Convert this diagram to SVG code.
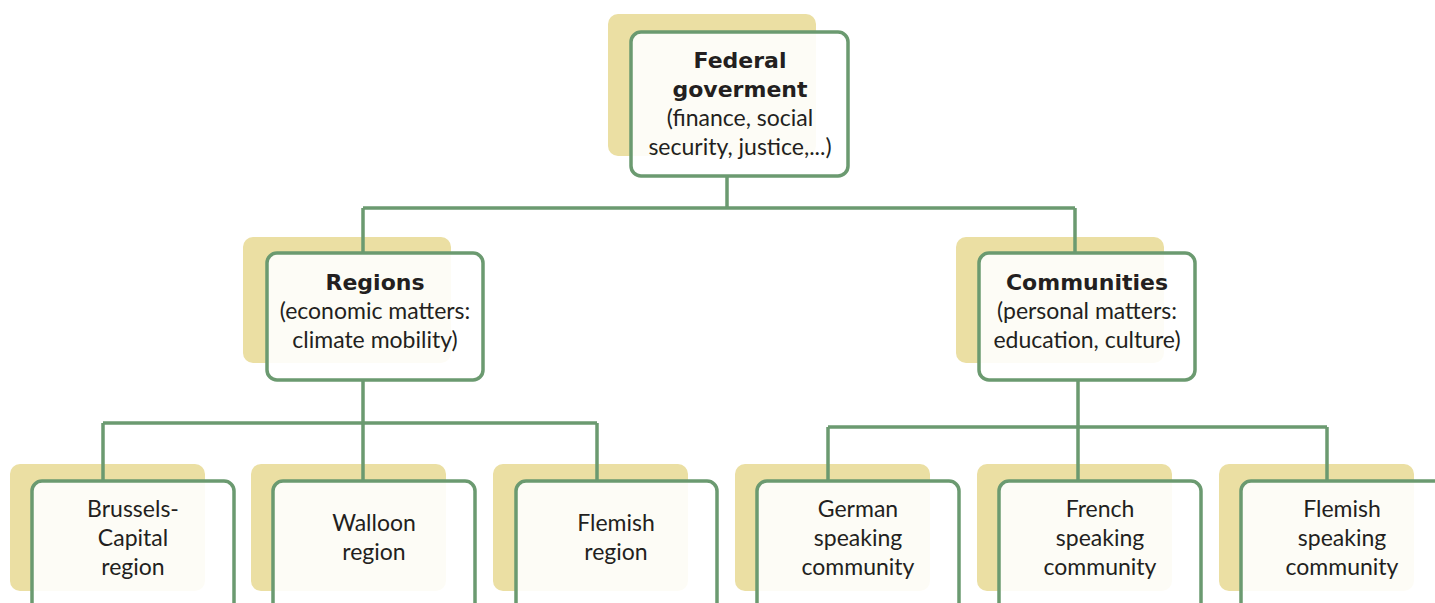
<svg xmlns="http://www.w3.org/2000/svg" width="1435" height="603" viewBox="0 0 1435 603">
  <style>
    .shadow { fill: #ebdfa3; }
    .box { fill: #ffffff; fill-opacity: 0.9; stroke: #6b9a70; stroke-width: 3.5; }
    .link { fill: none; stroke: #6b9a70; stroke-width: 3.5; }
    text { font-family: "Lato", "Open Sans", sans-serif; font-size: 23px; fill: #231f20; text-anchor: middle; }
    .title { font-family: "DejaVu Sans", "Lato", sans-serif; font-weight: bold; font-size: 22px; }
  </style>
  <rect width="1435" height="603" fill="#ffffff"/>

  <!-- shadow cards -->
  <g id="shadows">
    <rect class="shadow" x="608" y="14" width="208" height="142" rx="10"/>
    <rect class="shadow" x="243" y="237" width="208" height="126" rx="10"/>
    <rect class="shadow" x="956" y="237" width="208" height="126" rx="10"/>
    <rect class="shadow" x="10" y="464" width="195" height="127" rx="10"/>
    <rect class="shadow" x="251" y="464" width="195" height="127" rx="10"/>
    <rect class="shadow" x="493" y="464" width="195" height="127" rx="10"/>
    <rect class="shadow" x="735" y="464" width="195" height="127" rx="10"/>
    <rect class="shadow" x="977" y="464" width="195" height="127" rx="10"/>
    <rect class="shadow" x="1219" y="464" width="195" height="127" rx="10"/>
  </g>

  <!-- tree connectors -->
  <g id="connectors">
    <path class="link" d="M727 176 V208 M363 208 H1075 M363 208 V253 M1075 208 V253"/>
    <path class="link" d="M363 380 V423 M103 423 H597 M103 423 V481 M363 423 V481 M597 423 V481"/>
    <path class="link" d="M1078 380 V427 M828 427 H1327 M828 427 V481 M1078 427 V481 M1327 427 V481"/>
  </g>

  <g id="federal">
    <rect class="box" x="631" y="32" width="217" height="144" rx="10"/>
    <text x="740" y="68" class="title">Federal</text>
    <text x="740" y="97" class="title">goverment</text>
    <text x="740" y="126">(finance, social</text>
    <text x="740" y="155">security, justice,...)</text>
  </g>

  <g id="regions">
    <rect class="box" x="267" y="253" width="216" height="127" rx="10"/>
    <text x="375" y="290" class="title">Regions</text>
    <text x="375" y="319">(economic matters:</text>
    <text x="375" y="348">climate mobility)</text>
  </g>

  <g id="communities">
    <rect class="box" x="979" y="253" width="216" height="127" rx="10"/>
    <text x="1087" y="290" class="title">Communities</text>
    <text x="1087" y="319">(personal matters:</text>
    <text x="1087" y="348">education, culture)</text>
  </g>

  <g id="brussels">
    <rect class="box" x="32" y="481" width="202" height="140" rx="10"/>
    <text x="133" y="517">Brussels-</text>
    <text x="133" y="546">Capital</text>
    <text x="133" y="575">region</text>
  </g>

  <g id="walloon">
    <rect class="box" x="273" y="481" width="202" height="140" rx="10"/>
    <text x="374" y="531">Walloon</text>
    <text x="374" y="560">region</text>
  </g>

  <g id="flemish-region">
    <rect class="box" x="516" y="481" width="201" height="140" rx="10"/>
    <text x="616" y="531">Flemish</text>
    <text x="616" y="560">region</text>
  </g>

  <g id="german">
    <rect class="box" x="757" y="481" width="202" height="140" rx="10"/>
    <text x="858" y="517">German</text>
    <text x="858" y="546">speaking</text>
    <text x="858" y="575">community</text>
  </g>

  <g id="french">
    <rect class="box" x="999" y="481" width="202" height="140" rx="10"/>
    <text x="1100" y="517">French</text>
    <text x="1100" y="546">speaking</text>
    <text x="1100" y="575">community</text>
  </g>

  <g id="flemish-community">
    <rect class="box" x="1241" y="481" width="220" height="140" rx="10"/>
    <text x="1342" y="517">Flemish</text>
    <text x="1342" y="546">speaking</text>
    <text x="1342" y="575">community</text>
  </g>
</svg>
